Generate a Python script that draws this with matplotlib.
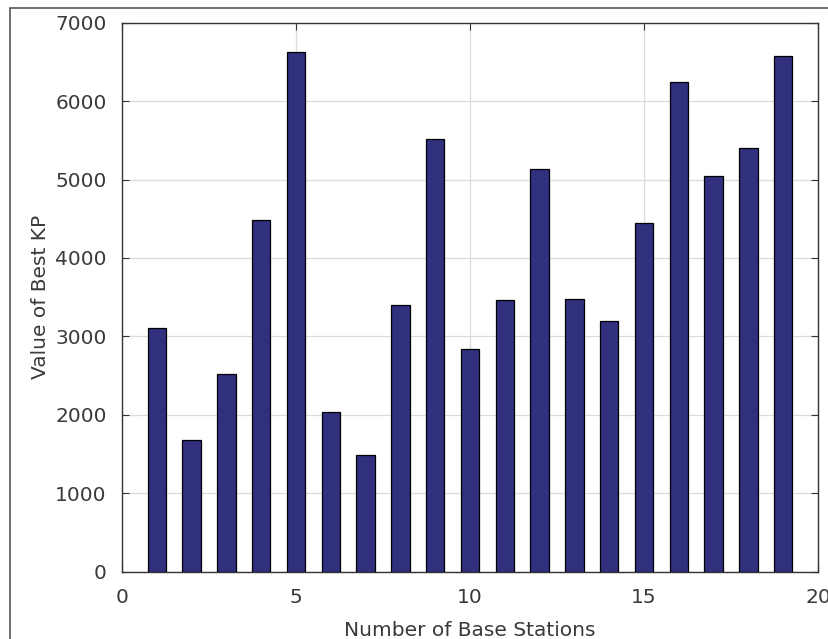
import matplotlib
matplotlib.use("Agg")
import matplotlib.pyplot as plt
from matplotlib.patches import Rectangle

stations = list(range(1, 20))
best_kp = [3100, 1680, 2520, 4480, 6620, 2040, 1490, 3400, 5520, 2840,
           3460, 5130, 3480, 3200, 4440, 6240, 5040, 5400, 6580]
x_ticks = [0, 5, 10, 15, 20]
y_ticks = [0, 1000, 2000, 3000, 4000, 5000, 6000, 7000]

txt = "#3a3a3a"
fig = plt.figure(figsize=(8.29, 6.39), dpi=100)
fig.patches.append(Rectangle((10 / 829, -0.1), 1.2, (639 - 8) / 639 + 0.1,
                             transform=fig.transFigure, fill=False,
                             edgecolor="#555555", linewidth=1.2))
ax = fig.add_axes([122 / 829, (639 - 571.5) / 639, (818 - 122) / 829, (571.5 - 22.7) / 639])
ax.bar(stations, best_kp, width=0.53, color="#30307f", edgecolor="black",
       linewidth=0.9, zorder=3)
ax.set_xlim(0, 20)
ax.set_ylim(0, 7000)
ax.set_xticks(x_ticks)
ax.set_yticks(y_ticks)
ax.grid(True, color="#dcdcdc", linewidth=0.9, zorder=0)
ax.tick_params(direction="in", length=5, width=0.8, top=True, right=True,
               labelsize=14.5, labelcolor=txt, colors="#333333")
ax.tick_params(axis="x", pad=12)
ax.tick_params(axis="y", pad=11)
for s in ax.spines.values():
    s.set_color("#333333")
    s.set_linewidth(1.0)
ax.set_xlabel("Number of Base Stations", fontsize=14.5, color=txt, labelpad=10)
ax.set_ylabel("Value of Best KP", fontsize=14.5, color=txt, labelpad=4)
fig.savefig("out.png", dpi=100)
